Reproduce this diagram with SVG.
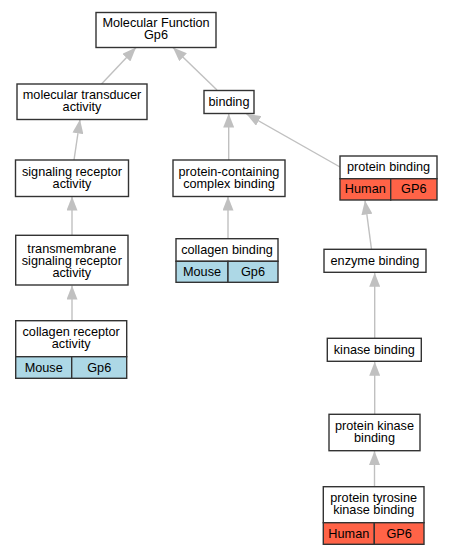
<svg xmlns="http://www.w3.org/2000/svg" width="453" height="555" viewBox="0 0 453 555">
<style>
.box{fill:#ffffff;stroke:#333333;stroke-width:1.4}
.human{fill:#ff6347;stroke:#333333;stroke-width:1.4}
.mouse{fill:#add8e6;stroke:#333333;stroke-width:1.4}
text{font-family:"Liberation Sans",Arial,sans-serif;font-size:12.7px;fill:#000000;text-anchor:middle}
.edge{stroke:#c0c0c0;stroke-width:1.4;fill:none}
</style>
<defs>
<marker id="arr" markerUnits="userSpaceOnUse" markerWidth="14" markerHeight="11" refX="14" refY="5.5" orient="auto">
<path d="M0,0 L14,5.5 L0,11 z" fill="#c0c0c0"/>
</marker>
</defs>
<rect width="453" height="555" fill="#ffffff"/>
<g id="edges">
<line class="edge" x1="101.5" y1="84" x2="136" y2="47.5" marker-end="url(#arr)"/>
<line class="edge" x1="217" y1="90" x2="173" y2="47.5" marker-end="url(#arr)"/>
<line class="edge" x1="74" y1="160" x2="80" y2="119.5" marker-end="url(#arr)"/>
<line class="edge" x1="228.7" y1="160" x2="228.7" y2="113.5" marker-end="url(#arr)"/>
<line class="edge" x1="340" y1="167" x2="246.5" y2="114" marker-end="url(#arr)"/>
<line class="edge" x1="72" y1="235.3" x2="72" y2="196.5" marker-end="url(#arr)"/>
<line class="edge" x1="72" y1="320.7" x2="72" y2="285.5" marker-end="url(#arr)"/>
<line class="edge" x1="228" y1="238.7" x2="228" y2="196.5" marker-end="url(#arr)"/>
<line class="edge" x1="371.5" y1="249.3" x2="365" y2="200.5" marker-end="url(#arr)"/>
<line class="edge" x1="374.7" y1="338.3" x2="374.7" y2="272.8" marker-end="url(#arr)"/>
<line class="edge" x1="374.7" y1="414.3" x2="374.7" y2="361.8" marker-end="url(#arr)"/>
<line class="edge" x1="374.5" y1="486.7" x2="374.5" y2="451" marker-end="url(#arr)"/>
</g>
<g id="mf">
<rect class="box" x="96" y="12.5" width="120" height="35"/>
<text x="156" y="27">Molecular Function</text>
<text x="156" y="39">Gp6</text>
</g>
<g id="mtransducer">
<rect class="box" x="17" y="84" width="130" height="35.5"/>
<text x="82" y="99">molecular transducer</text>
<text x="82" y="111">activity</text>
</g>
<g id="binding">
<rect class="box" x="204" y="90.5" width="50" height="23"/>
<text x="229" y="106">binding</text>
</g>
<g id="sigreceptor">
<rect class="box" x="15.5" y="160" width="113" height="36.5"/>
<text x="72" y="175.5">signaling receptor</text>
<text x="72" y="187.5">activity</text>
</g>
<g id="pcomplex">
<rect class="box" x="173" y="160" width="112" height="36.5"/>
<text x="229" y="175.5">protein-containing</text>
<text x="229" y="187.5">complex binding</text>
</g>
<g id="pbinding">
<rect class="box" x="340" y="156" width="97" height="22.7"/>
<rect class="human" x="340" y="178.7" width="50.7" height="21.3"/>
<rect class="human" x="390.7" y="178.7" width="46.3" height="21.3"/>
<text x="388.5" y="171">protein binding</text>
<text x="365.3" y="193">Human</text>
<text x="413.8" y="193">GP6</text>
</g>
<g id="tmsig">
<rect class="box" x="15.7" y="235.3" width="112.3" height="49.7"/>
<text x="71.8" y="252.5">transmembrane</text>
<text x="71.8" y="264.5">signaling receptor</text>
<text x="71.8" y="276.5">activity</text>
</g>
<g id="collagenbinding">
<rect class="box" x="176" y="238.7" width="102" height="22.6"/>
<rect class="mouse" x="176" y="261.3" width="52" height="21"/>
<rect class="mouse" x="228" y="261.3" width="50" height="21"/>
<text x="227" y="254">collagen binding</text>
<text x="202" y="276">Mouse</text>
<text x="253" y="276">Gp6</text>
</g>
<g id="enzyme">
<rect class="box" x="324" y="249.3" width="102" height="23"/>
<text x="375" y="265">enzyme binding</text>
</g>
<g id="collagenreceptor">
<rect class="box" x="15.7" y="320.7" width="111" height="36"/>
<rect class="mouse" x="15.7" y="356.7" width="56" height="21.6"/>
<rect class="mouse" x="71.7" y="356.7" width="55" height="21.6"/>
<text x="71.2" y="336">collagen receptor</text>
<text x="71.2" y="348">activity</text>
<text x="43.7" y="371.5">Mouse</text>
<text x="99.2" y="371.5">Gp6</text>
</g>
<g id="kinase">
<rect class="box" x="327.3" y="338.3" width="94" height="23"/>
<text x="374.3" y="354">kinase binding</text>
</g>
<g id="pkinase">
<rect class="box" x="329" y="414.3" width="91" height="36.4"/>
<text x="374.5" y="429.5">protein kinase</text>
<text x="374.5" y="441.5">binding</text>
</g>
<g id="ptyrosine">
<rect class="box" x="323.3" y="486.7" width="100.7" height="36"/>
<rect class="human" x="323.3" y="522.7" width="51" height="21.6"/>
<rect class="human" x="374.3" y="522.7" width="49.7" height="21.6"/>
<text x="373.7" y="502">protein tyrosine</text>
<text x="373.7" y="514">kinase binding</text>
<text x="348.8" y="537.5">Human</text>
<text x="399.2" y="537.5">GP6</text>
</g>
</svg>
